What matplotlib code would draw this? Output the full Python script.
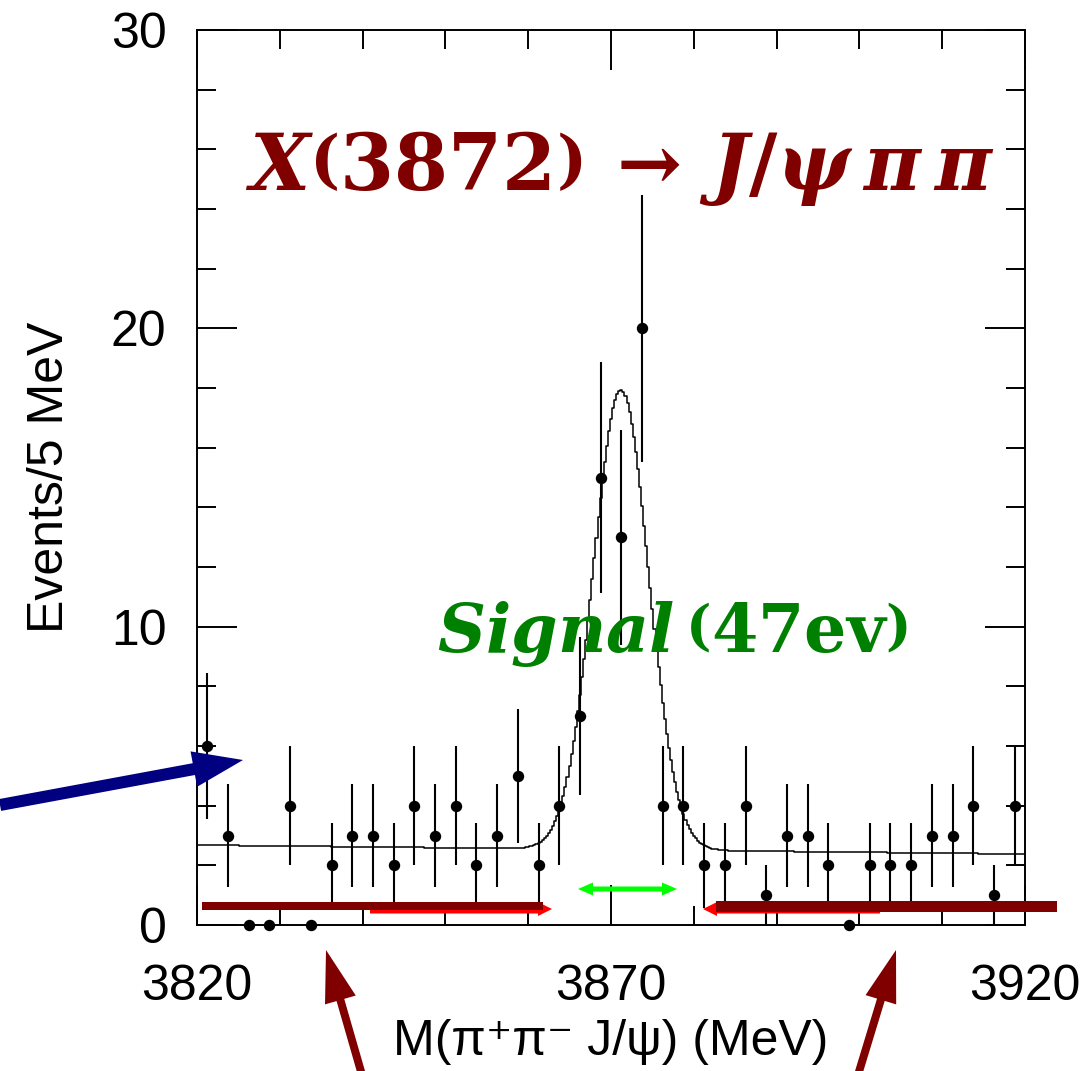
import numpy as np
import matplotlib
matplotlib.use('Agg')
import matplotlib.pyplot as plt
from matplotlib.patches import FancyArrow, Rectangle
from matplotlib.ticker import MultipleLocator

# events per 2.5 MeV bin (3820 - 3920 MeV)
mass = np.arange(3821.25, 3920, 2.5)
counts = np.array([6, 3, 0, 0, 4, 0, 2, 3, 3, 2,
                   4, 3, 4, 2, 3, 5, 2, 4, 7, 15,
                   13, 20, 4, 4, 2, 2, 4, 1, 3, 3,
                   2, 0, 2, 2, 2, 3, 3, 4, 1, 4])
errors = np.sqrt(counts)

# fit parameters: gaussian peak on a linear background
peak_mass = 3871.2
peak_sigma = 3.35
peak_height = 15.4
bkg_start = 2.68
bkg_slope = -0.0030

x_ticks = [3820, 3870, 3920]
y_ticks = [0, 10, 20, 30]

plt.rcParams['mathtext.fontset'] = 'custom'
plt.rcParams['mathtext.rm'] = 'DejaVu Serif:bold'
plt.rcParams['mathtext.bf'] = 'DejaVu Serif:bold'
plt.rcParams['mathtext.it'] = 'DejaVu Serif:italic:bold'

W, H = 1092, 1071
fig = plt.figure(figsize=(W / 100, H / 100), dpi=100)
ax = fig.add_axes([197 / W, 1 - 925 / H, 828 / W, 895 / H])

m = np.arange(3820, 3920.01, 0.25)
fit = bkg_start + bkg_slope * (m - 3820) + peak_height * np.exp(-0.5 * ((m - peak_mass) / peak_sigma) ** 2)
ax.step(m, fit, where='mid', color='black', lw=1.1)

nz = counts > 0
ax.errorbar(mass[nz], counts[nz], yerr=errors[nz], fmt='o', color='black',
            ms=7.2, elinewidth=1.5, capsize=0)
ax.plot(mass[~nz], counts[~nz], 'o', color='black', ms=7.2, clip_on=False)

ax.set_xlim(3820, 3920)
ax.set_ylim(0, 30)
ax.set_xticks(x_ticks)
ax.set_yticks(y_ticks)
ax.xaxis.set_minor_locator(MultipleLocator(10))
ax.yaxis.set_minor_locator(MultipleLocator(2))
ax.tick_params(which='both', direction='in', top=True, right=True, width=1.4)
ax.tick_params(which='major', length=29)
ax.tick_params(which='minor', length=14)
ax.tick_params(axis='x', pad=28, labelsize=36)
ax.tick_params(axis='y', pad=22, labelsize=36)
for lab in ax.get_xticklabels() + ax.get_yticklabels():
    lab.set_family('Liberation Sans')
for s in ax.spines.values():
    s.set_linewidth(1.4)

ax.set_ylabel('Events/5 MeV', fontsize=36, family='Liberation Sans')
ax.yaxis.set_label_coords(-0.15, 0.5)
ax.set_xlabel('M(\u03c0\u207a\u03c0\u207b J/\u03c8) (MeV)', fontsize=36,
              family=['Liberation Sans', 'DejaVu Sans'])
ax.xaxis.set_label_coords(0.5, -0.105)

fig.text(245 / W, 1 - 190 / H, r'$X\left(3872\right)\,\rightarrow\,J/\psi\,\pi\,\pi$',
         color='#800000', fontsize=56, ha='left', va='baseline')
fig.text(437 / W, 1 - 652 / H, r'$Signal\,\left(\mathrm{47ev}\right)$',
         color='#008000', fontsize=48, ha='left', va='baseline')


def arrow(x0, y0, x1, y1, w, hw, hl, color, z=3):
    # coordinates in pixels from the top-left corner
    a = FancyArrow(x0 / 100, (H - y0) / 100, (x1 - x0) / 100, (y0 - y1) / 100,
                   width=w / 100, head_width=hw / 100, head_length=hl / 100,
                   length_includes_head=True, color=color, lw=0,
                   transform=fig.dpi_scale_trans, zorder=z)
    fig.add_artist(a)


def bar(x0, x1, yc, h, color, z=4):
    r = Rectangle((x0 / 100, (H - yc - h / 2) / 100), (x1 - x0) / 100, h / 100,
                  color=color, lw=0, transform=fig.dpi_scale_trans, zorder=z)
    fig.add_artist(r)


# sideband markers
arrow(370, 909, 552, 909, 9, 14, 14, '#ff0000')
arrow(880, 909, 703, 909, 9, 14, 14, '#ff0000')
bar(202, 543, 906, 8, '#800000')
bar(716, 1057, 906, 11, '#800000')

# signal window
arrow(628, 889, 578, 889, 5, 13, 15, '#00ff00')
arrow(628, 889, 677, 889, 5, 13, 15, '#00ff00')

# pointers
arrow(0, 805, 243, 760, 12, 36, 50, '#000080')
arrow(362, 1075, 326, 950, 8, 32, 52, '#800000')
arrow(858, 1075, 896, 950, 8, 32, 52, '#800000')

fig.savefig('out.png', dpi=100)
